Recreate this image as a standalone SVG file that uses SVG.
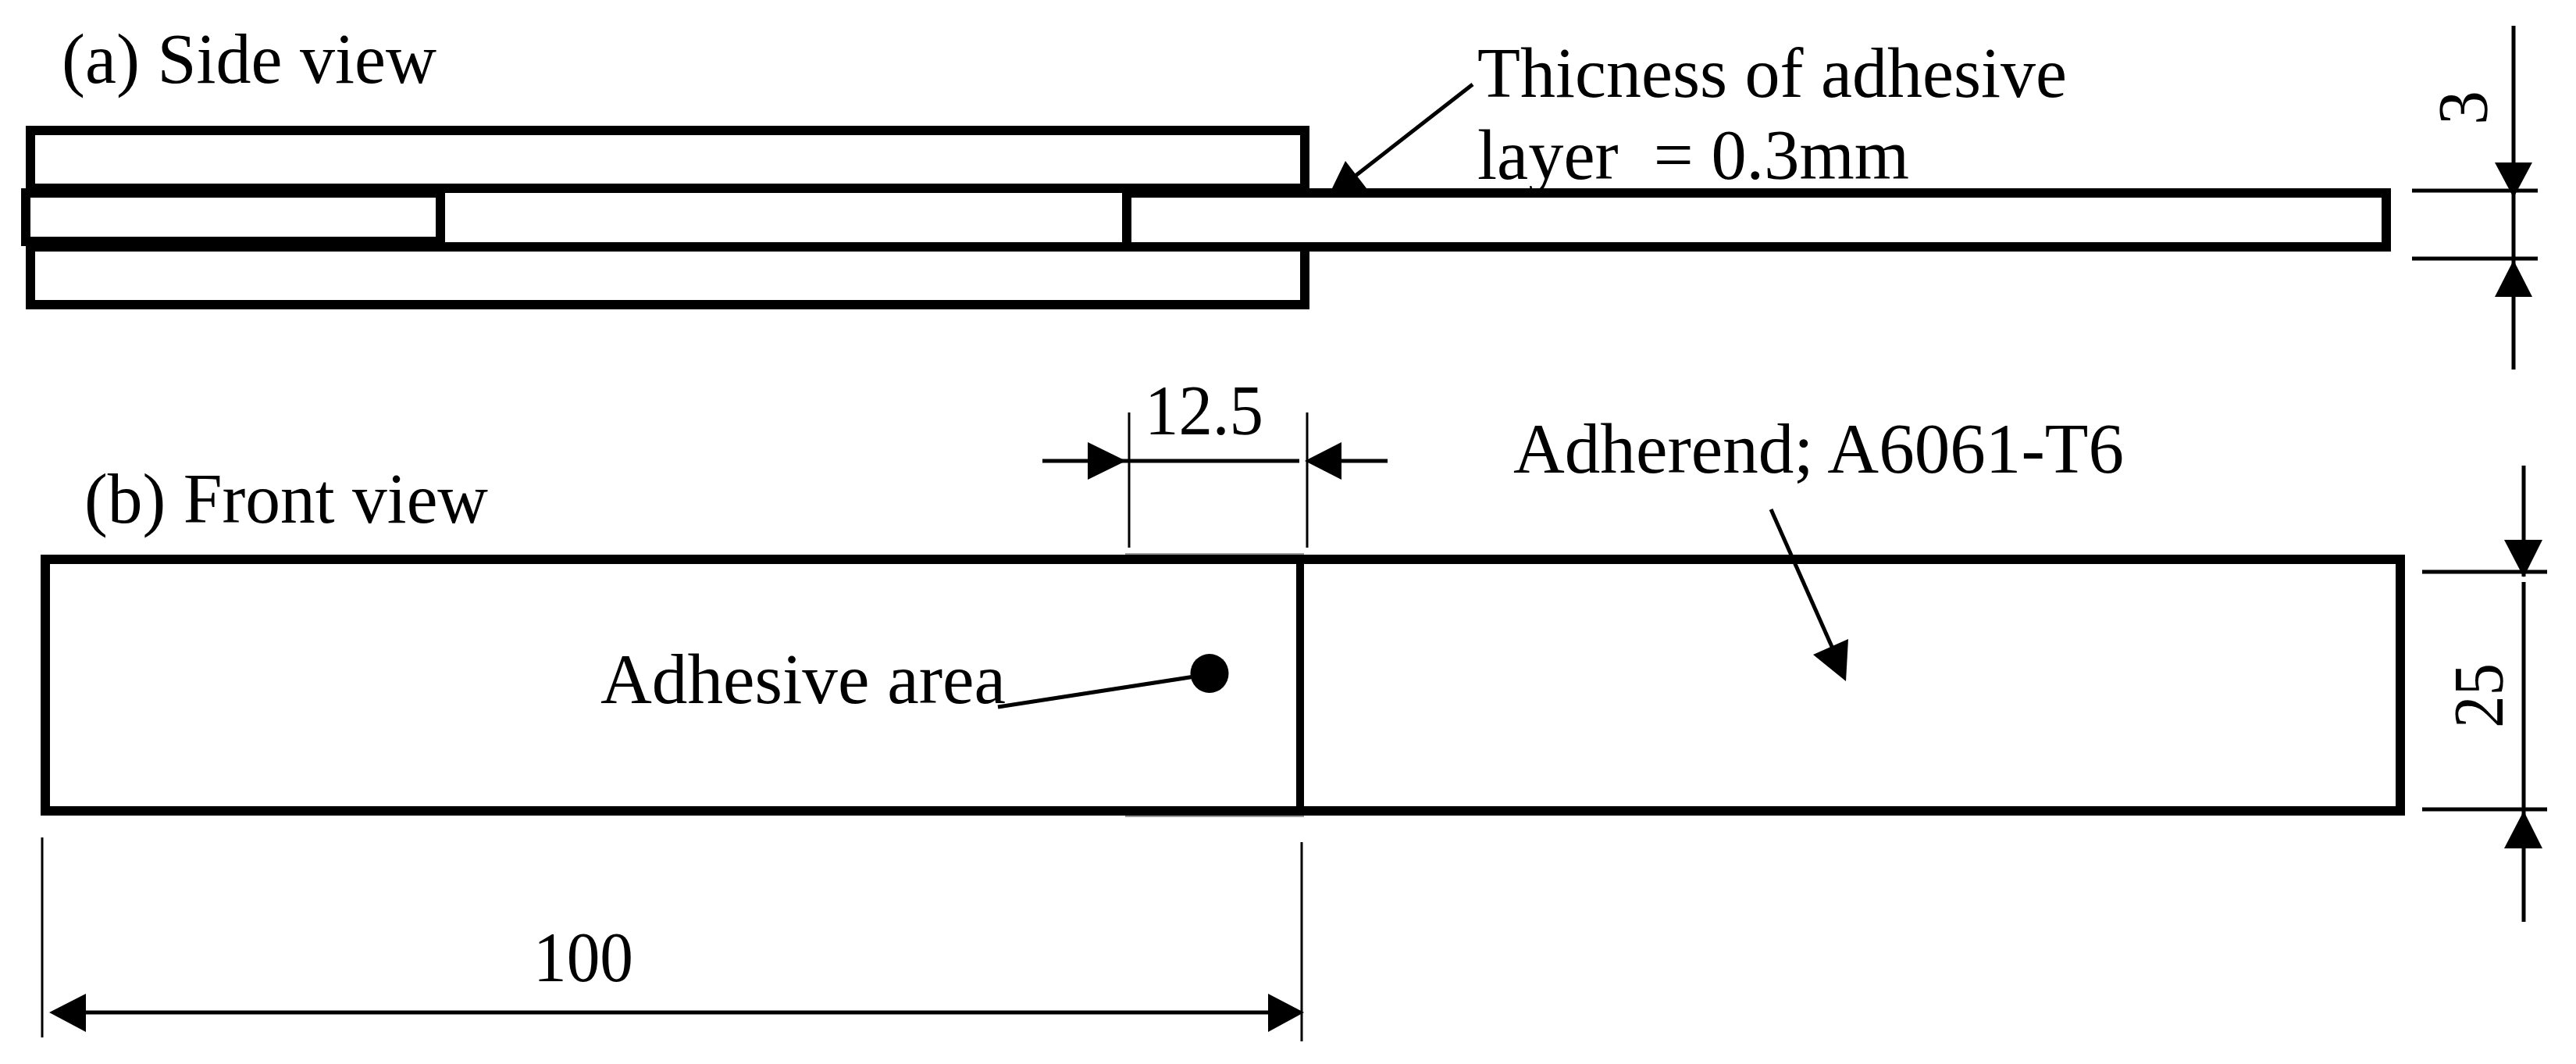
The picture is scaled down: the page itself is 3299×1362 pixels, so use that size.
<svg xmlns="http://www.w3.org/2000/svg" width="3299" height="1362" viewBox="0 0 3299 1362">
<style>
text{font-family:"Liberation Serif","Times New Roman",serif;font-size:92px;fill:#000}
.p{fill:none;stroke:#000;stroke-width:12}
.d{fill:none;stroke:#000;stroke-width:5}
.t{fill:none;stroke:#000;stroke-width:3}
.a{fill:#000}
</style>
<rect width="3299" height="1362" fill="#fff"/>
<g id="side-view">
<rect class="p" x="39" y="167" width="1632" height="74"/>
<rect class="p" x="39" y="316" width="1632" height="74"/>
<rect class="p" x="33" y="247" width="531" height="62"/>
<rect class="p" x="1443" y="247" width="1613" height="69"/>
<path class="p" d="M564 241H1443M564 316H1443"/>
</g>
<g id="front-view">
<rect class="p" x="58" y="716" width="3016" height="322"/>
<path d="M1665 716V1038" fill="none" stroke="#000" stroke-width="10"/>
<path d="M1441 709H1670M1441 1045H1670" fill="none" stroke="#999" stroke-width="2"/>
</g>
<g id="labels">
<text x="79" y="106" textLength="480" lengthAdjust="spacingAndGlyphs">(a) Side view</text>
<text x="1892" y="124" textLength="755" lengthAdjust="spacingAndGlyphs">Thicness of adhesive</text>
<text x="1892" y="229" textLength="553" lengthAdjust="spacingAndGlyphs" xml:space="preserve">layer  = 0.3mm</text>
<text x="1466" y="556" textLength="152" lengthAdjust="spacingAndGlyphs">12.5</text>
<text x="1938" y="605" textLength="782" lengthAdjust="spacingAndGlyphs">Adherend; A6061-T6</text>
<text x="108" y="669" textLength="517" lengthAdjust="spacingAndGlyphs">(b) Front view</text>
<text x="769" y="900" textLength="519" lengthAdjust="spacingAndGlyphs">Adhesive area</text>
<text x="683" y="1256" textLength="128" lengthAdjust="spacingAndGlyphs">100</text>
<text transform="translate(3185 160) rotate(-90)" textLength="44" lengthAdjust="spacingAndGlyphs">3</text>
<text transform="translate(3205 932) rotate(-90)" textLength="83" lengthAdjust="spacingAndGlyphs">25</text>
</g>
<g id="connectors">
<path class="d" d="M1886 108L1732 228"/>
<polygon class="a" points="1723,206 1706,241 1750,241"/>
<path class="d" d="M3219 33V473M3089 244H3250M3089 331H3250"/>
<polygon class="a" points="3195,208 3243,208 3219,253"/>
<polygon class="a" points="3195,380 3243,380 3219,333"/>
<path class="d" d="M3232 596V738M3232 745V1180M3102 732H3262M3102 1036H3262"/>
<polygon class="a" points="3207,691 3256,691 3232,739"/>
<polygon class="a" points="3207,1086 3256,1086 3232,1038"/>
<path class="t" d="M1446 528V701M1674 528V701"/>
<path class="d" d="M1335 590H1664M1680 590H1777"/>
<polygon class="a" points="1393,566 1393,614 1442,590"/>
<polygon class="a" points="1718,566 1718,614 1671,590"/>
<path class="t" d="M54 1072V1328M1667 1078V1333"/>
<path class="d" d="M100 1296H1630"/>
<polygon class="a" points="110,1272 110,1321 63,1296"/>
<polygon class="a" points="1624,1272 1624,1321 1670,1296"/>
<path class="d" d="M2268 652L2347 830"/>
<polygon class="a" points="2322,838 2367,818 2364,872"/>
<path class="d" d="M1278 905L1530 866"/>
<ellipse class="a" cx="1549" cy="862" rx="24.5" ry="25"/>
</g>
</svg>
